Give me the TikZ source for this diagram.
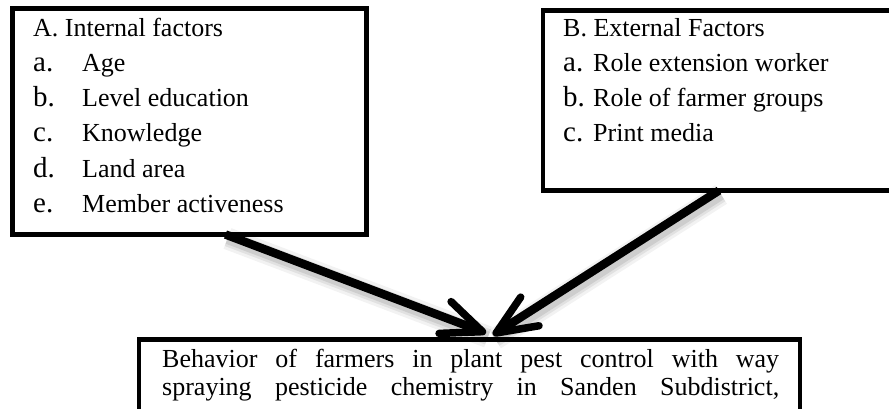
\documentclass[tikz,border=0pt]{standalone}
\usepackage{fontspec}
\setmainfont{Liberation Serif}
\usetikzlibrary{arrows.meta}

\begin{document}
\begin{tikzpicture}[x=1pt,y=-1pt,
    box/.style={draw,line width=4.5pt,outer sep=0pt,inner sep=0pt,anchor=north west},
    txt/.style={anchor=base west,inner sep=0pt,font=\fontsize{26}{28}\selectfont},
    lab/.style={anchor=base west,inner sep=0pt,font=\fontsize{29}{30}\selectfont},
    haze/.style={draw=black,opacity=#1,-,transform canvas={xshift=2pt,yshift=-4pt}},
    push/.style={line width=8.5pt,-{Straight Barb[length=40pt,width=34pt,line width=7.5pt,round]},
        preaction={haze=.05,line width=22pt},
        preaction={haze=.07,line width=16pt},
        preaction={haze=.09,line width=11pt}}]
    \useasboundingbox (0,0) rectangle (889,409);
    % boxes
    \node[box,minimum width=354pt,minimum height=226pt] (intern) at (12.5,8.5) {};
    \node[box,minimum width=360pt,minimum height=180pt] (extern) at (543,10.5) {};
    \node[box,minimum width=661pt,minimum height=71.5pt] (behav) at (139,339.5) {};
    % internal factors
    \node[txt] (inhead) at (33,37) {A. Internal factors};
    \foreach \l/\t [count=\i] in {a./Age, b./Level education, c./Knowledge, d./Land area, e./Member activeness} {
        \node[lab] (inlab\i) at (33,{37+35*\i}) {\l};
        \node[txt] (initem\i) at (82,{37+35*\i}) {\t};
    }
    % external factors
    \node[txt] (exhead) at (563,37) {B. External Factors};
    \foreach \l/\t [count=\i] in {a./Role extension worker, b./Role of farmer groups, c./Print media} {
        \node[lab] (exlab\i) at (563,{37+35*\i}) {\l};
        \node[txt] (exitem\i) at (593,{37+35*\i}) {\t};
    }
    % behavior
    \node[txt] (behline1) at (162,367) {\makebox[617pt][s]{Behavior of farmers in plant pest control with way}};
    \node[txt] (behline2) at (162,395) {\makebox[617pt][s]{spraying pesticide chemistry in Sanden Subdistrict,}};
    % arrows
    \coordinate (ltip) at (486,333);
    \coordinate (rtip) at (493,335);
    \draw[push] ([xshift=213pt]intern.south west) -- (ltip);
    \draw[push] ([xshift=176pt]extern.south west) -- (rtip);
\end{tikzpicture}
\end{document}
